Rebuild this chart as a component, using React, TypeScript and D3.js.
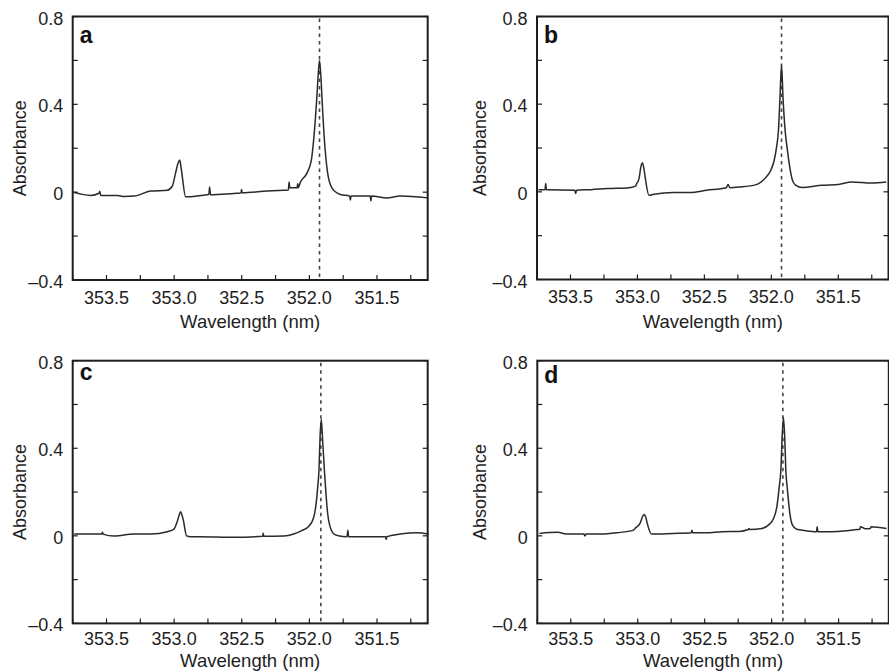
import React from "react";
import * as d3 from "d3";

// ---- data (wavelength nm, absorbance) ----
const waveA = [353.744, 353.68, 353.616, 353.555, 353.55, 353.542, 353.419, 353.37, 353.296, 353.173, 353.05, 353.014, 352.989, 352.972, 352.959, 352.948, 352.94, 352.915, 352.878, 352.804, 352.743, 352.738, 352.731, 352.558, 352.505, 352.502, 352.497, 352.312, 352.189, 352.155, 352.15, 352.145, 352.091, 352.086, 352.083, 352.066, 352.017, 351.985, 351.968, 351.946, 351.935, 351.925, 351.915, 351.906, 351.889, 351.865, 351.832, 351.771, 351.702, 351.697, 351.692, 351.55, 351.545, 351.54, 351.427, 351.328, 351.124];
const absA = [0.0, -0.01, -0.015, -0.005, 0.004, -0.015, -0.015, -0.02, -0.018, 0.005, 0.009, 0.027, 0.088, 0.13, 0.146, 0.11, 0.073, -0.021, -0.021, -0.015, -0.011, 0.024, -0.012, -0.006, -0.004, 0.012, -0.003, 0.005, 0.009, 0.01, 0.046, 0.02, 0.02, 0.04, 0.02, 0.046, 0.088, 0.147, 0.24, 0.42, 0.53, 0.6, 0.53, 0.42, 0.24, 0.088, 0.018, -0.011, -0.018, -0.036, -0.018, -0.018, -0.04, -0.018, -0.026, -0.018, -0.026];

const waveB = [353.739, 353.69, 353.685, 353.68, 353.665, 353.468, 353.461, 353.455, 353.345, 353.222, 353.074, 353.013, 353.005, 352.988, 352.974, 352.963, 352.95, 352.939, 352.914, 352.877, 352.729, 352.606, 352.483, 352.336, 352.323, 352.31, 352.237, 352.114, 352.089, 352.04, 352.003, 351.979, 351.961, 351.947, 351.936, 351.924, 351.912, 351.897, 351.88, 351.863, 351.843, 351.819, 351.769, 351.622, 351.499, 351.4, 351.252, 351.142];
const absB = [0.01, 0.01, 0.038, 0.01, 0.01, 0.007, -0.008, 0.007, 0.01, 0.015, 0.018, 0.026, 0.038, 0.06, 0.115, 0.133, 0.1, 0.053, -0.016, -0.011, -0.003, -0.003, 0.007, 0.019, 0.034, 0.019, 0.022, 0.033, 0.04, 0.066, 0.1, 0.143, 0.204, 0.28, 0.42, 0.577, 0.42, 0.28, 0.19, 0.115, 0.054, 0.031, 0.02, 0.03, 0.034, 0.045, 0.04, 0.045];

const waveC = [353.739, 353.665, 353.535, 353.53, 353.525, 353.444, 353.296, 353.173, 353.05, 353.001, 352.977, 352.96, 352.952, 352.942, 352.932, 352.908, 352.878, 352.804, 352.558, 352.345, 352.342, 352.337, 352.189, 352.116, 352.057, 352.007, 351.97, 351.953, 351.938, 351.929, 351.921, 351.912, 351.903, 351.889, 351.879, 351.865, 351.847, 351.823, 351.786, 351.722, 351.715, 351.71, 351.697, 351.574, 351.437, 351.432, 351.427, 351.328, 351.205, 351.119];
const absC = [0.008, 0.008, 0.008, 0.016, 0.008, -0.001, 0.008, 0.008, 0.019, 0.031, 0.065, 0.1, 0.11, 0.095, 0.072, 0.0, -0.004, -0.004, -0.007, -0.002, 0.012, -0.002, -0.001, 0.008, 0.024, 0.042, 0.08, 0.133, 0.225, 0.3, 0.45, 0.532, 0.45, 0.3, 0.21, 0.103, 0.042, 0.011, 0.0, -0.004, 0.026, -0.004, -0.004, -0.004, -0.004, -0.016, -0.004, 0.008, 0.014, 0.008];

const waveD = [353.734, 353.599, 353.525, 353.402, 353.394, 353.387, 353.279, 353.155, 353.032, 353.02, 352.983, 352.962, 352.951, 352.94, 352.929, 352.897, 352.737, 352.6, 352.596, 352.59, 352.49, 352.367, 352.244, 352.175, 352.17, 352.165, 352.071, 352.022, 351.985, 351.961, 351.943, 351.931, 351.921, 351.912, 351.903, 351.894, 351.882, 351.864, 351.845, 351.813, 351.751, 351.677, 351.665, 351.66, 351.655, 351.628, 351.504, 351.357, 351.34, 351.337, 351.3, 351.263, 351.258, 351.142];
const absD = [0.011, 0.016, 0.008, 0.008, -0.001, 0.008, 0.008, 0.014, 0.026, 0.034, 0.057, 0.09, 0.098, 0.085, 0.057, 0.008, 0.011, 0.014, 0.026, 0.014, 0.014, 0.019, 0.02, 0.029, 0.034, 0.029, 0.034, 0.05, 0.08, 0.133, 0.225, 0.3, 0.46, 0.541, 0.46, 0.3, 0.21, 0.103, 0.05, 0.03, 0.024, 0.019, 0.019, 0.042, 0.019, 0.019, 0.02, 0.029, 0.03, 0.042, 0.032, 0.033, 0.042, 0.034];

const panelLetters = ["a", "b", "c", "d"];
const dashWave = [351.925, 351.924, 351.915, 351.916];

const xDomain = [353.75, 351.125];
const yDomain = [-0.4, 0.8];
const xMajorTicks = [353.5, 353.0, 352.5, 352.0, 351.5];
const xMajorLabels = ["353.5", "353.0", "352.5", "352.0", "351.5"];
const xMinorTicks = [353.75, 353.25, 352.75, 352.25, 351.75, 351.25];
const yMajorTicks = [0.8, 0.4, 0, -0.4];
const yMajorLabels = ["0.8", "0.4", "0", "\u20130.4"];
const yMinorTicks = [0.6, 0.2, -0.2];

const xTitle = "Wavelength (nm)";
const yTitle = "Absorbance";

// ---- layout ----
const layouts = [
  { left: 72.7, top: 16.5, width: 355, height: 263.5, letterDy: 26.5, tickDy: 17.5, titleDy: 41.5, yTitleX: 20 },
  { left: 537, top: 16.5, width: 351.5, height: 263, letterDy: 26.5, tickDy: 17.5, titleDy: 41.5, yTitleX: 479.5 },
  { left: 72.7, top: 360.7, width: 355, height: 262.7, letterDy: 19, tickDy: 15.5, titleDy: 37, yTitleX: 19.5 },
  { left: 537.3, top: 360.7, width: 351.5, height: 262.7, letterDy: 22.5, tickDy: 15.5, titleDy: 37, yTitleX: 479.5 },
];

const seriesX = [waveA, waveB, waveC, waveD];
const seriesY = [absA, absB, absC, absD];

const FONT = "'Liberation Sans', Arial, Helvetica, sans-serif";
const INK = "#1e1e1e";

function Panel({ idx }: { idx: number }) {
  const L = layouts[idx];
  const x = d3.scaleLinear().domain(xDomain).range([L.left, L.left + L.width]);
  const y = d3.scaleLinear().domain(yDomain).range([L.top + L.height, L.top]);
  const pts: [number, number][] = seriesX[idx].map((w, i) => [w, seriesY[idx][i]]);
  const line = d3
    .line<[number, number]>()
    .x((d) => x(d[0]))
    .y((d) => y(d[1]))
    .curve(d3.curveMonotoneX);
  const bottom = L.top + L.height;
  const right = L.left + L.width;
  const tl = 5;
  return (
    <g>
      <line
        x1={x(dashWave[idx])}
        x2={x(dashWave[idx])}
        y1={L.top + 2}
        y2={bottom}
        stroke="#444"
        strokeWidth={1.6}
        strokeDasharray="3.5,4"
      />
      <path d={line(pts) || ""} fill="none" stroke="#2a2a2a" strokeWidth={1.5} strokeLinejoin="round" />
      {[...xMajorTicks, ...xMinorTicks].map((t, i) => (
        <line key={"xt" + i} x1={x(t)} x2={x(t)} y1={bottom} y2={bottom - tl} stroke={INK} strokeWidth={1.2} />
      ))}
      {[...yMajorTicks, ...yMinorTicks].map((t, i) => (
        <g key={"yt" + i}>
          <line x1={L.left} x2={L.left + tl} y1={y(t)} y2={y(t)} stroke={INK} strokeWidth={1.2} />
          <line x1={right} x2={right - tl} y1={y(t)} y2={y(t)} stroke={INK} strokeWidth={1.2} />
        </g>
      ))}
      <rect x={L.left} y={L.top} width={L.width} height={L.height} fill="none" stroke={INK} strokeWidth={2} />
      {xMajorTicks.map((t, i) => (
        <text
          key={"xl" + i}
          x={x(t)}
          y={bottom + L.tickDy}
          textAnchor="middle"
          dominantBaseline="central"
          fontSize={18}
          fill={INK}
          fontFamily={FONT}
        >
          {xMajorLabels[i]}
        </text>
      ))}
      {yMajorTicks.map((t, i) => (
        <text
          key={"yl" + i}
          x={L.left - 9.5}
          y={y(t) + 2}
          textAnchor="end"
          dominantBaseline="central"
          fontSize={18}
          fill={INK}
          fontFamily={FONT}
        >
          {yMajorLabels[i]}
        </text>
      ))}
      <text
        x={L.left + L.width / 2}
        y={bottom + L.titleDy}
        textAnchor="middle"
        dominantBaseline="central"
        fontSize={18.5}
        fill={INK}
        fontFamily={FONT}
      >
        {xTitle}
      </text>
      <text
        transform={`translate(${L.yTitleX},${L.top + L.height / 2}) rotate(-90)`}
        textAnchor="middle"
        dominantBaseline="central"
        fontSize={18}
        fill={INK}
        fontFamily={FONT}
      >
        {yTitle}
      </text>
      <text x={L.left + 7} y={L.top + L.letterDy} fontSize={23} fontWeight="bold" fill="#111" fontFamily={FONT}>
        {panelLetters[idx]}
      </text>
    </g>
  );
}

export default function App() {
  return (
    <svg
      width={889}
      height={672}
      style={{ position: "absolute", left: 0, top: 0, background: "#fff" }}
    >
      <rect x={0} y={0} width={889} height={672} fill="#fff" />
      {[0, 1, 2, 3].map((i) => (
        <Panel key={i} idx={i} />
      ))}
    </svg>
  );
}
